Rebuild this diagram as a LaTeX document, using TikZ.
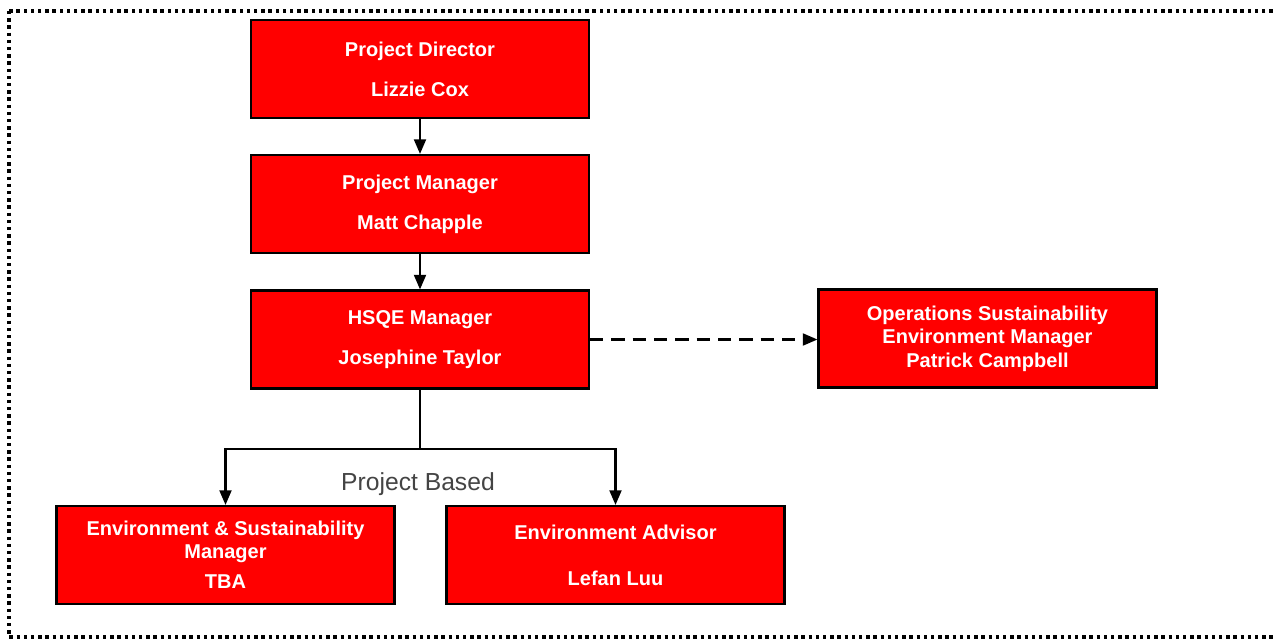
\documentclass[tikz,border=0pt]{standalone}
\usepackage{fontspec}
\setmainfont{Liberation Sans}
\usetikzlibrary{arrows.meta,positioning}
\definecolor{boxred}{RGB}{255,0,0}
\definecolor{notegray}{RGB}{68,68,68}

\begin{document}
\begin{tikzpicture}[
  x=0.75pt, y=-0.75pt,
  role/.style={draw=black, line width=1.6pt, fill=boxred, text=white, align=center,
    minimum width=253.5pt, minimum height=73.5pt, inner sep=0pt,
    font=\fontsize{15}{17.5}\selectfont\bfseries},
  arr/.style={-{Triangle[length=11pt,width=9pt]}, line width=1.6pt, black},
]
\useasboundingbox (0,0) rectangle (1275,640);
\begin{scope}
  \clip (0,0) rectangle (1275,640);
  \draw[line width=2.6pt, dash pattern=on 2.6pt off 2.8pt] (9,11) rectangle (1300,637);
\end{scope}

\node[role] (director) at (420,69) {Project Director\\[12.5pt]Lizzie Cox};
\node[role] (manager)  at (420,204) {Project Manager\\[12.5pt]Matt Chapple};
\node[role] (hsqe)     at (420,339.5) {HSQE Manager\\[12.5pt]Josephine Taylor};
\node[role] (ops)      at (987.5,338.5)
  {Operations Sustainability\\Environment Manager\\Patrick Campbell};
\node[role] (esm)      at (225.5,555)
  {Environment \& Sustainability\\Manager\\[5pt]TBA};
\node[role] (advisor)  at (615.5,555) {Environment Advisor\\[17pt]Lefan Luu};

\coordinate (split) at (420,449);

\draw[arr] (director) -- (manager);
\draw[arr] (manager) -- (hsqe);
\draw[line width=1.6pt] (hsqe) -- (split);
\draw[arr] (split) -| (esm);
\draw[arr] (split) -| (advisor);
\draw[arr, dash pattern=on 10pt off 6pt] (hsqe.east) -- (hsqe.east -| ops.west);

\node[font=\fontsize{18.5}{22}\selectfont, text=notegray] (based) at (418,484) {Project Based};
\end{tikzpicture}
\end{document}
